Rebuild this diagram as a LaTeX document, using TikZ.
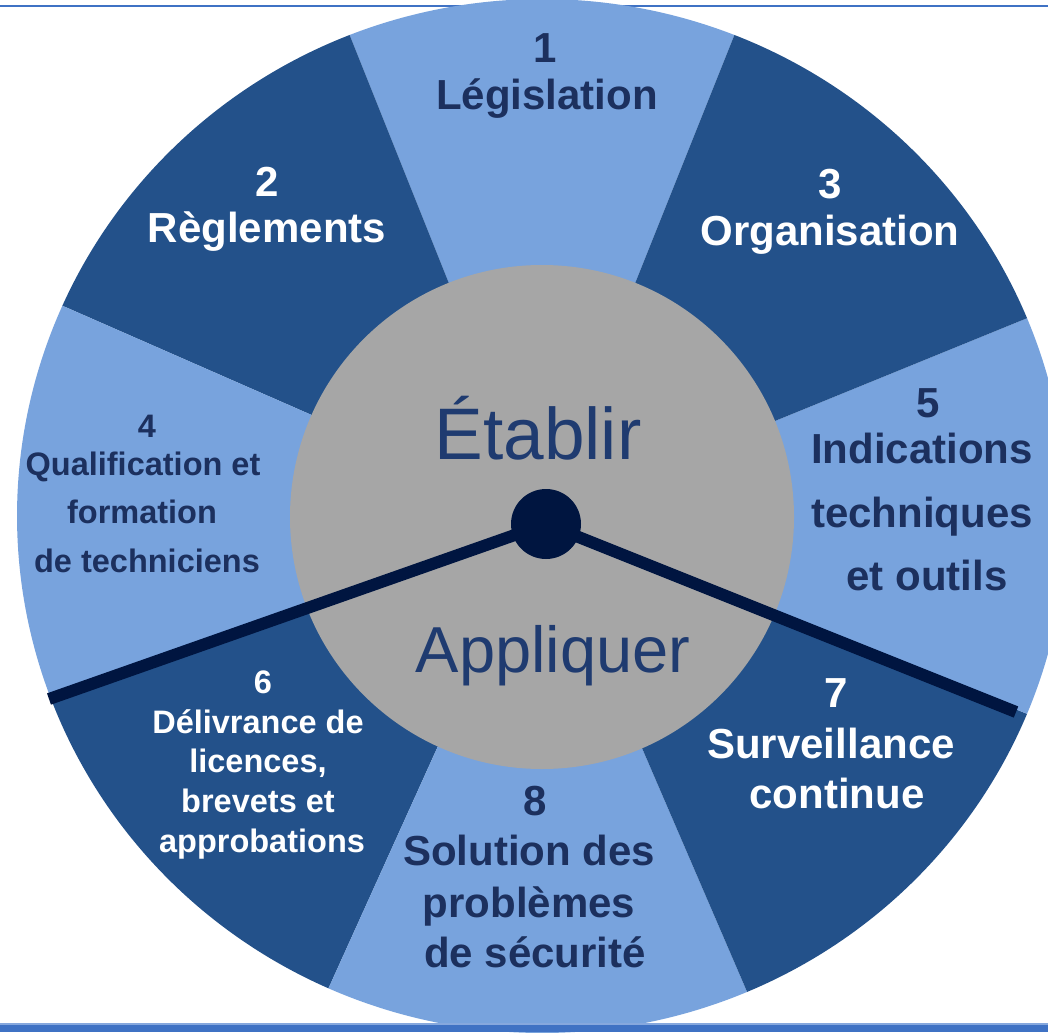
\documentclass[tikz,border=0pt]{standalone}
\usepackage{fontspec}
\setmainfont{Liberation Sans}
\usetikzlibrary{calc}
\definecolor{lightsec}{HTML}{78A3DD}
\definecolor{darksec}{HTML}{23518A}
\definecolor{hubgray}{HTML}{A6A6A6}
\definecolor{navy}{HTML}{001540}
\definecolor{darktext}{HTML}{1C305E}
\definecolor{hubtext}{HTML}{1F3B70}
\definecolor{bandblue}{HTML}{3F72C4}
\definecolor{bandlight}{HTML}{86A8DE}
\newcommand\wheelsector[3]{\fill[#3] (C) -- ($(C)+(#1:525pt and 517pt)$) arc[start angle=#1, end angle=#2, x radius=525pt, y radius=517pt] -- cycle;}
\begin{document}
\begin{tikzpicture}[x=1pt,y=-1pt,
  big/.style={font=\bfseries\fontsize{42}{50}\selectfont, anchor=base, inner sep=0pt},
  small/.style={font=\bfseries\fontsize{32.5}{40}\selectfont, anchor=base, inner sep=0pt},
  ondark/.style={text=white},
  onlight/.style={text=darktext},
  hubword/.style={text=hubtext, anchor=base, inner sep=0pt},
  hand/.style={draw=navy, line width=12pt, line cap=butt},
]
\useasboundingbox (0,0) rectangle (1048,1032);
\clip (0,0) rectangle (1048,1032);
\fill[white] (0,0) rectangle (1048,1032);
\draw[bandblue, line width=2.5pt] (0,6) -- (1048,6);
\coordinate (C) at (542,516);
% sectors
\wheelsector{68.5}{111.5}{lightsec}   % 1
\wheelsector{111.5}{156}{darksec}     % 2
\wheelsector{156}{200.5}{lightsec}    % 4
\wheelsector{200.5}{246}{darksec}     % 6
\wheelsector{246}{293}{lightsec}      % 8
\wheelsector{293}{337.5}{darksec}     % 7
\wheelsector{-22.5}{22.5}{lightsec}   % 5
\wheelsector{22.5}{68.5}{darksec}     % 3
% hub
\node[circle, fill=hubgray, minimum size=504pt, inner sep=0pt] (hub) at (542,517) {};
% hands
\node[circle, fill=navy, minimum size=70pt, inner sep=0pt] (dot) at (546,524) {};
\coordinate (lh) at (49,699);
\coordinate (rh) at (1016,712);
\draw[hand, shorten <=-3pt] (dot) -- (lh);
\draw[hand, shorten <=-3pt] (dot) -- (rh);
% hub words
\node[hubword, font=\fontsize{73}{80}\selectfont] (est) at (538,459) {Établir};
\node[hubword, font=\fontsize{65}{72}\selectfont] (app) at (553,672) {Appliquer};
% sector 1
\node[big,onlight] (n1) at (545,63) {1};
\node[big,onlight] (t1) at (547,110) {Législation};
% sector 2
\node[big,ondark] (n2) at (267,197) {2};
\node[big,ondark] (t2) at (267,242) {Règlements};
% sector 3
\node[big,ondark] (n3) at (830,199) {3};
\node[big,ondark] (t3) at (830,245) {Organisation};
% sector 4
\node[small,onlight] (n4) at (147,437) {4};
\node[small,onlight] (t4a) at (143,475) {Qualification et};
\node[small,onlight] (t4b) at (142,523) {formation};
\node[small,onlight] (t4c) at (147,572) {de techniciens};
% sector 5
\node[big,onlight] (n5) at (928,417) {5};
\node[big,onlight] (t5a) at (922,463) {Indications};
\node[big,onlight] (t5b) at (922,527) {techniques};
\node[big,onlight] (t5c) at (927,590) {et outils};
% sector 6
\node[small,ondark] (n6) at (263,693) {6};
\node[small,ondark] (t6a) at (258,733) {Délivrance de};
\node[small,ondark] (t6b) at (258,772) {licences,};
\node[small,ondark] (t6c) at (258,812) {brevets et};
\node[small,ondark] (t6d) at (262,852) {approbations};
% sector 7
\node[big,ondark] (n7) at (836,707) {7};
\node[big,ondark] (t7a) at (831,758) {Surveillance};
\node[big,ondark] (t7b) at (837,808) {continue};
% sector 8
\node[big,onlight] (n8) at (535,815) {8};
\node[big,onlight] (t8a) at (529,865) {Solution des};
\node[big,onlight] (t8b) at (529,917) {problèmes};
\node[big,onlight] (t8c) at (535,967) {de sécurité};
% bottom band
\fill[bandblue] (0,1024) rectangle (1048,1032);
\draw[bandlight, line width=1.5pt] (0,1024) -- (1048,1024);
\end{tikzpicture}
\end{document}
